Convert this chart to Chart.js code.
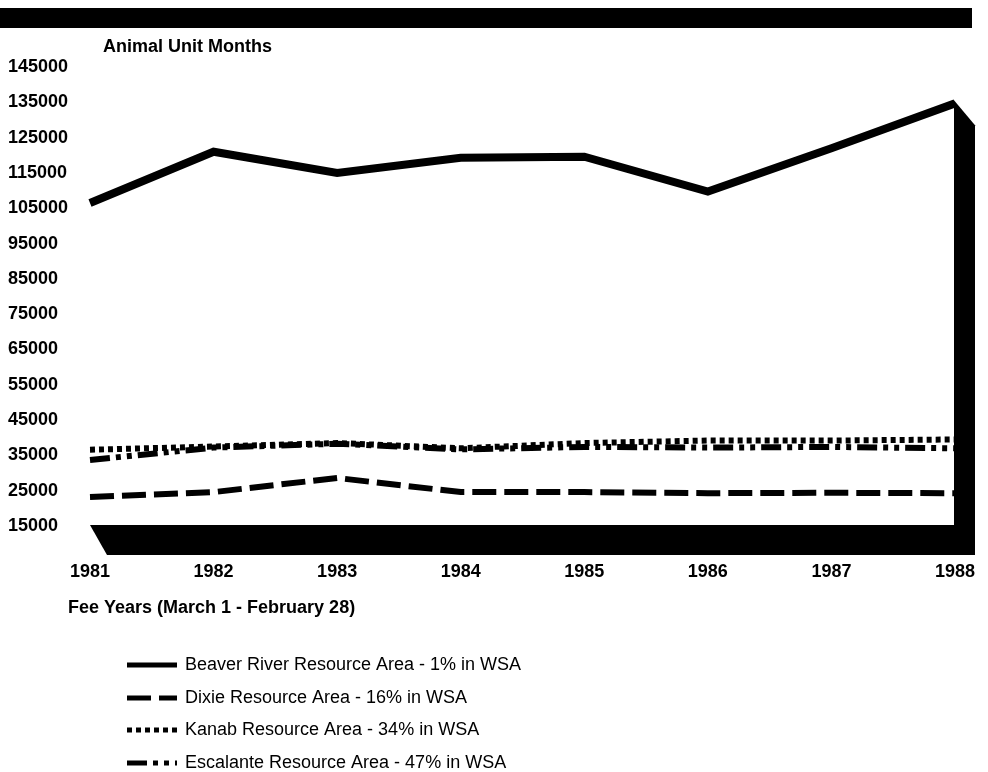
<!DOCTYPE html>
<html lang="en">
<head>
    <meta charset="UTF-8">
    <title>Animal Unit Months</title>
    <script src="https://cdn.jsdelivr.net/npm/chart.js"></script>
    <style>
        body {
            margin: 0;
            background: #fff;
        }
        .wrap {
            width: 988px;
            height: 772px;
            position: relative;
        }
    </style>
</head>
<body>
<div class="wrap"><canvas id="aumChart"></canvas></div>
<script>
    const years = ['1981', '1982', '1983', '1984', '1985', '1986', '1987', '1988'];
    const yTickValues = [15000, 25000, 35000, 45000, 55000, 65000, 75000, 85000, 95000, 105000, 115000, 125000, 135000, 145000];

    const beaver = [106500, 121000, 115000, 119300, 119600, 109700, 122000, 134700];
    const dixie = [23200, 24600, 28600, 24600, 24600, 24300, 24400, 24300];
    const kanab = [36600, 37500, 38500, 37000, 38500, 39200, 39200, 39500];
    const escalante = [33700, 37200, 38300, 36700, 37400, 37200, 37400, 37000];

    const seriesNames = [
        'Beaver River Resource Area - 1% in WSA',
        'Dixie Resource Area - 16% in WSA',
        'Kanab Resource Area - 34% in WSA',
        'Escalante Resource Area - 47% in WSA'
    ];

    const boldFont = 'bold 18px "Liberation Sans", Arial, sans-serif';
    const plainFont = '18px "Liberation Sans", Arial, sans-serif';

    // black header bar, 3d floor + side wall, labels and legend
    const decor = {
        id: 'decor',
        beforeDatasetsDraw(chart) {
            const {ctx, chartArea: a, scales: {y}} = chart;
            ctx.save();
            ctx.fillStyle = '#000';
            ctx.fillRect(0, 8, 972, 20);

            ctx.beginPath();
            ctx.moveTo(a.left, a.bottom - 1);
            ctx.lineTo(a.right, a.bottom - 1);
            ctx.lineTo(a.right + 20, a.bottom + 29);
            ctx.lineTo(a.left + 17, a.bottom + 29);
            ctx.closePath();
            ctx.fill();

            const topY = y.getPixelForValue(beaver[beaver.length - 1]) - 3;
            ctx.beginPath();
            ctx.moveTo(a.right - 1, topY);
            ctx.lineTo(a.right + 20, topY + 25);
            ctx.lineTo(a.right + 20, a.bottom + 29);
            ctx.lineTo(a.right - 1, a.bottom + 29);
            ctx.closePath();
            ctx.fill();
            ctx.restore();
        },
        afterDraw(chart) {
            const ctx = chart.ctx;
            ctx.save();
            ctx.fillStyle = '#000';
            ctx.font = boldFont;
            ctx.textBaseline = 'alphabetic';
            ctx.fillText('Animal Unit Months', 103, 52);
            ctx.fillText('Fee Years (March 1 - February 28)', 68, 613);

            const rowY = [665, 698, 730, 763];
            chart.data.datasets.forEach((ds, i) => {
                ctx.strokeStyle = '#000';
                ctx.lineWidth = 5;
                ctx.lineCap = 'butt';
                ctx.setLineDash(ds.borderDash || []);
                ctx.beginPath();
                ctx.moveTo(127, rowY[i]);
                ctx.lineTo(177, rowY[i]);
                ctx.stroke();
                ctx.setLineDash([]);
                ctx.font = plainFont;
                ctx.textBaseline = 'middle';
                ctx.fillText(ds.label, 185, rowY[i]);
            });
            ctx.restore();
        }
    };

    const ctx = document.getElementById('aumChart').getContext('2d');
    new Chart(ctx, {
        type: 'line',
        data: {
            labels: years,
            datasets: [
                {label: seriesNames[0], data: beaver, borderWidth: 8, borderJoinStyle: 'miter'},
                {label: seriesNames[1], data: dixie, borderWidth: 6, borderDash: [24, 8]},
                {label: seriesNames[2], data: kanab, borderWidth: 6, borderDash: [5, 4]},
                {label: seriesNames[3], data: escalante, borderWidth: 6, borderDash: [20, 6, 5, 6, 5, 6]}
            ].map(d => Object.assign({
                borderColor: '#000',
                backgroundColor: '#000',
                pointRadius: 0,
                tension: 0,
                fill: false
            }, d))
        },
        options: {
            responsive: true,
            maintainAspectRatio: false,
            animation: false,
            layout: {
                padding: {left: 8, right: 33, top: 67, bottom: 186}
            },
            plugins: {
                legend: {display: false},
                tooltip: {enabled: false}
            },
            scales: {
                x: {
                    offset: false,
                    grid: {display: false, drawTicks: false},
                    border: {display: false},
                    ticks: {
                        color: '#000',
                        font: {family: '"Liberation Sans", Arial, sans-serif', size: 18, weight: 'bold'},
                        padding: 35,
                        maxRotation: 0,
                        autoSkip: false
                    },
                    afterFit: scale => {
                        scale.height = 60;
                        scale.paddingLeft = 0;
                        scale.paddingRight = 0;
                    }
                },
                y: {
                    min: 15000,
                    max: 145000,
                    grid: {display: false, drawTicks: false},
                    border: {display: false},
                    afterBuildTicks: scale => {
                        scale.ticks = yTickValues.map(v => ({value: v}));
                    },
                    ticks: {
                        color: '#000',
                        crossAlign: 'far',
                        font: {family: '"Liberation Sans", Arial, sans-serif', size: 18, weight: 'bold'},
                        callback: v => String(v)
                    },
                    afterFit: scale => { scale.width = 82; }
                }
            }
        },
        plugins: [decor]
    });
</script>
</body>
</html>
